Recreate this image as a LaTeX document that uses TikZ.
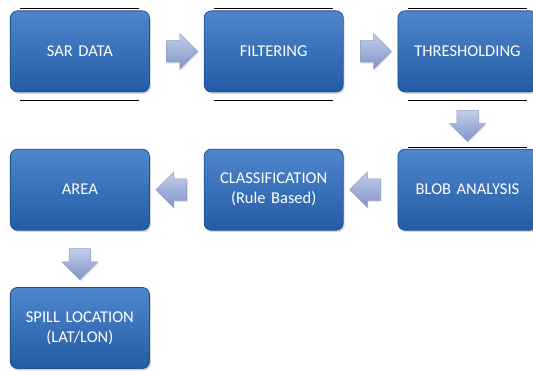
\documentclass[tikz,border=0pt]{standalone}
\usepackage{fontspec}
\setmainfont{Carlito}
\usetikzlibrary{matrix,shapes.arrows,shadows}

\definecolor{boxtop}{RGB}{80,134,204}
\definecolor{boxbot}{RGB}{34,92,164}
\definecolor{boxedge}{RGB}{30,80,146}
\definecolor{arrtop}{RGB}{196,206,234}
\definecolor{arrbot}{RGB}{128,148,200}
\definecolor{arredge}{RGB}{140,156,200}

\tikzset{
  stagebox/.style={rounded corners=7pt, draw=boxedge, line width=0.8pt,
    top color=boxtop, bottom color=boxbot, text=white,
    font=\fontsize{16.5}{20}\selectfont, align=center, text width=128pt,
    minimum width=139pt, minimum height=81pt, anchor=center,
    drop shadow={opacity=0.3, shadow xshift=1.5pt, shadow yshift=-2pt}},
  flowarrow/.style={single arrow, single arrow head extend=7pt,
    inner xsep=0pt, inner ysep=10.5pt, minimum height=31pt,
    draw=arredge, line width=0.5pt, top color=arrtop, bottom color=arrbot,
    drop shadow={opacity=0.2, shadow xshift=1pt, shadow yshift=-1.5pt}},
  flowdown/.style={flowarrow, shape border rotate=270, inner xsep=10.5pt, inner ysep=0pt},
  rule/.style={draw=black, line width=0.9pt}
}

\begin{document}
\begin{tikzpicture}
  \useasboundingbox (0,0) rectangle (533pt,-371pt);
  \matrix (m) [matrix of nodes, row sep=56.5pt, column sep=54pt, nodes={stagebox},
    anchor=north west, inner sep=0pt, outer sep=0pt] at (10pt,-10.5pt)
  {
SAR DATA & FILTERING & THRESHOLDING \\
AREA & CLASSIFICATION (Rule Based) & BLOB ANALYSIS \\
SPILL LOCATION (LAT/LON) & & \\
};
  \path
  (m-1-1) -- node [flowarrow] {} (m-1-2)
  (m-1-2) -- node [flowarrow] {} (m-1-3)
  (m-1-3) -- node [flowdown] {} (m-2-3)
  (m-2-3) -- node [flowarrow, shape border rotate=180] {} (m-2-2)
  (m-2-2) -- node [flowarrow, shape border rotate=180] {} (m-2-1)
  (m-2-1) -- node [flowdown] {} (m-3-1)
  ;
  \foreach \c in {1,2,3} {
    \draw [rule] ([xshift=10pt,yshift=2pt]m-1-\c.north west) -- ([xshift=-10pt,yshift=2pt]m-1-\c.north east);
    \draw [rule] ([xshift=10pt,yshift=-9pt]m-1-\c.south west) -- ([xshift=-10pt,yshift=-9pt]m-1-\c.south east);
  }
  \draw [rule] ([xshift=10pt,yshift=1.5pt]m-2-3.north west) -- ([xshift=-10pt,yshift=1.5pt]m-2-3.north east);
\end{tikzpicture}
\end{document}
